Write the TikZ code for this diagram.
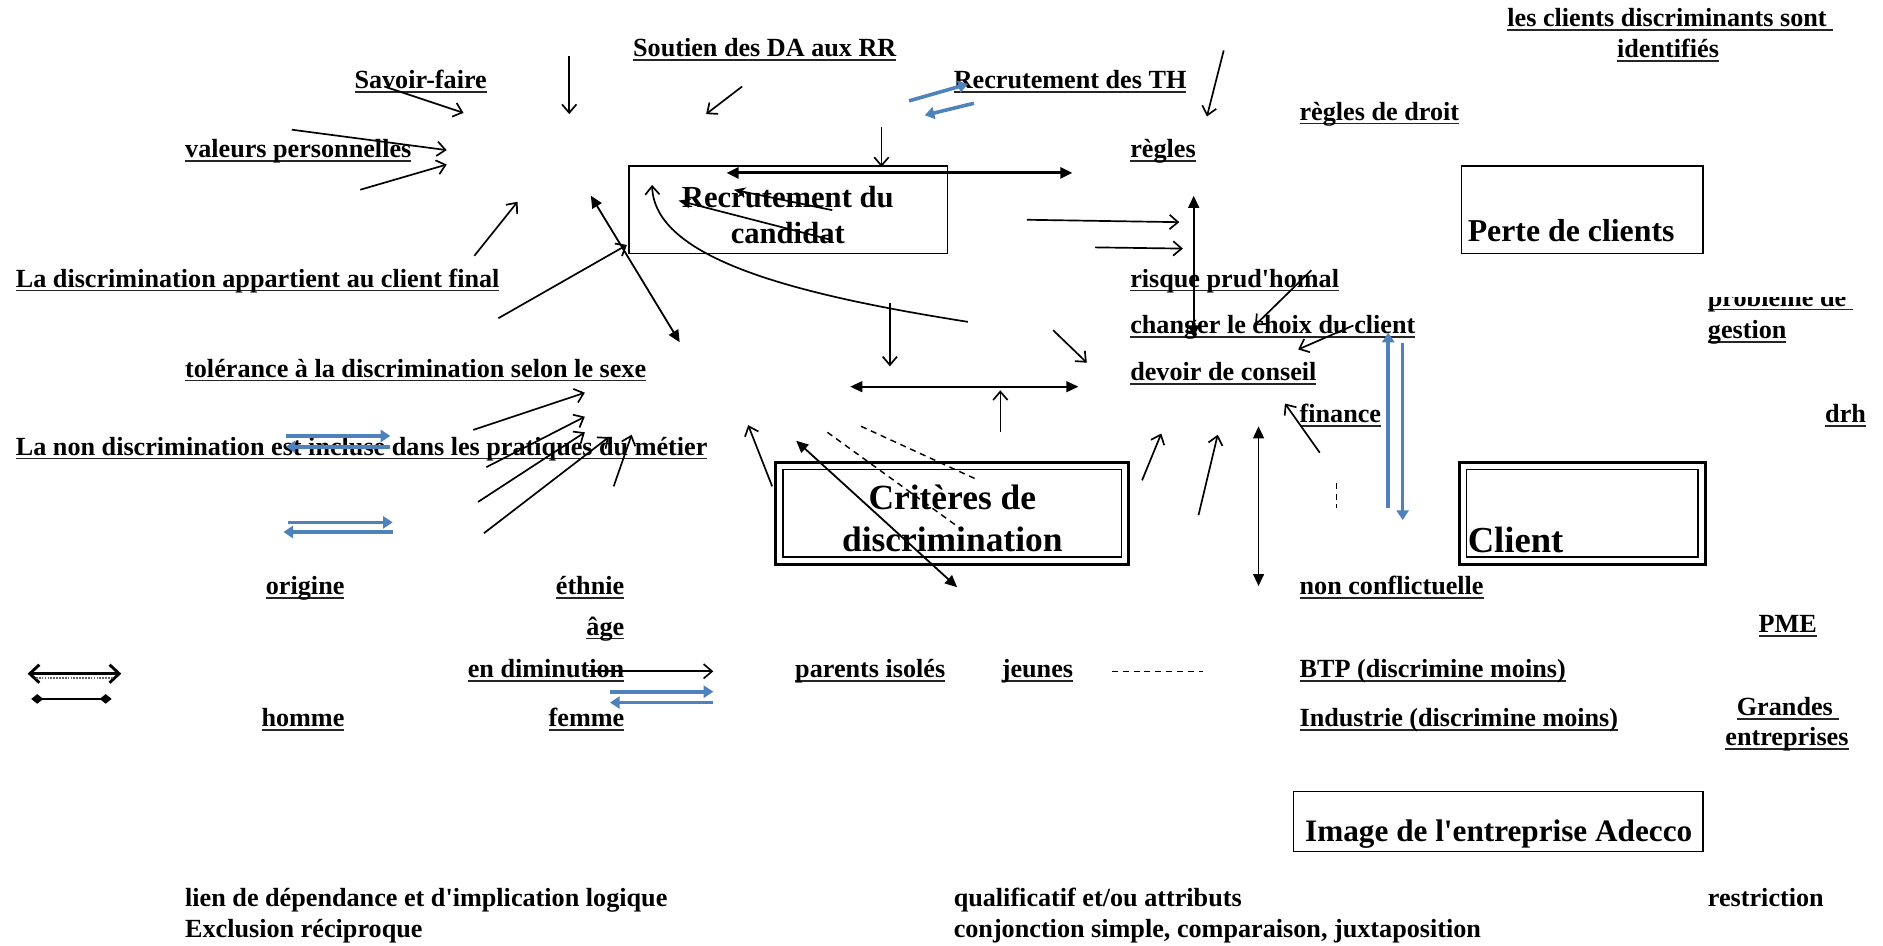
\documentclass[tikz,border=0pt]{standalone}
\usepackage{fontspec}
\setmainfont{Liberation Serif}
\usetikzlibrary{arrows.meta}
\definecolor{bl}{RGB}{79,129,189}
\newcommand\ulx[1]{\setbox0\hbox{#1}\rlap{\color{black!85}\rule[-3.5pt]{\wd0}{1.4pt}}\box0}
\newcommand\q{\textquotesingle}
\newcommand\lfont{\bfseries\fontsize{21.8}{25}\selectfont}
\tikzset{
  lbl/.style={font=\lfont, inner sep=0pt, anchor=base west},
  lble/.style={lbl, anchor=base east},
  arr/.style={-{Straight Barb[length=7pt,width=12pt]}, line width=1.4pt},
  farr/.style={-{Stealth[length=10pt,width=8pt]}, line width=1.4pt},
  darr/.style={{Triangle[length=10pt,width=9pt]}-{Triangle[length=10pt,width=9pt]}, line width=1.5pt},
  barr/.style={draw=bl, line width=3pt, -{Triangle[length=8pt,width=10pt]}},
  dsh/.style={dashed, dash pattern=on 5pt off 4pt, line width=1.2pt},
  box/.style={draw, line width=1.4pt, inner sep=0pt},
  ttl/.style={font=\bfseries\fontsize{#1}{#1}\selectfont, inner sep=0pt}
}
\begin{document}
\begin{tikzpicture}[x=1pt,y=-1pt]
\useasboundingbox (0,0) rectangle (1568,787);

% boxes
\node[box, minimum width=265pt, minimum height=73pt] (brec) at (656.5,174.5) {};
\node[box, minimum width=201pt, minimum height=73pt] (bperte) at (1317.5,174.5) {};
\node[box, line width=2.6pt, minimum width=294pt, minimum height=85pt] (bcrit) at (793,427.5) {};
\node[box, line width=1.3pt, minimum width=282pt, minimum height=73pt] (bcriti) at (793,427.5) {};
\node[box, line width=2.6pt, minimum width=205pt, minimum height=85pt] (bcli) at (1317.5,427.5) {};
\node[box, line width=1.3pt, minimum width=193pt, minimum height=73pt] (bclii) at (1317.5,427.5) {};
\node[box, minimum width=341pt, minimum height=50pt] (bimg) at (1247.5,684) {};

% box titles
\node[inner sep=0pt, align=center, font=\bfseries\fontsize{25.5}{30}\selectfont] (trec) at (656,179) {Recrutement du\\candidat};
\node[inner sep=0pt, align=center, font=\bfseries\fontsize{29.5}{35}\selectfont] (tcrit) at (793,432) {Critères de\\discrimination};
\node[ttl=26.5, anchor=base west] (tperte) at (1222,201) {Perte de clients};
\node[ttl=30.5, anchor=base west] (tcli) at (1222,460) {Client};
\node[ttl=26, anchor=base] (timg) at (1248,701) {Image de l\q entreprise Adecco};

% labels
\node[lbl] (t1) at (1255,22) {\ulx{les clients discriminants sont\ }};
\node[lbl, anchor=base] (t2) at (1389,48) {\ulx{identifiés}};
\node[lbl] (t3) at (527,47) {\ulx{Soutien des DA aux RR}};
\node[lbl] (t4) at (295,74) {\ulx{Savoir-faire}};
\node[lbl] (t5) at (794,74) {\ulx{Recrutement des TH}};
\node[lbl] (t6) at (1082,100) {\ulx{règles de droit}};
\node[lbl] (t7) at (154,131) {\ulx{valeurs personnelles}};
\node[lbl] (t8) at (941,131) {\ulx{règles}};
\node[lbl] (t9) at (13,239) {\ulx{La discrimination appartient au client final}};
\node[lbl] (t10) at (941,239) {\ulx{risque prud\q homal}};
\begin{scope}
\clip (1415,248) rectangle (1560,266);
\node[lbl] (t11) at (1422,255) {\ulx{problème de\ }};
\end{scope}
\node[lbl] (t12) at (1422,282) {\ulx{gestion}};
\node[lbl] (t13) at (941,278) {\ulx{changer le choix du client}};
\node[lbl] (t14) at (154,314) {\ulx{tolérance à la discrimination selon le sexe}};
\node[lbl] (t15) at (941,317) {\ulx{devoir de conseil}};
\node[lbl] (t16) at (1082,352) {\ulx{finance}};
\node[lble] (t17) at (1554,352) {\ulx{drh}};
\node[lbl] (t18) at (13,379) {\ulx{La non discrimination est incluse dans les pratiques du métier}};
\node[lble] (t19) at (287,495) {\ulx{origine}};
\node[lble] (t20) at (520,495) {\ulx{éthnie}};
\node[lbl] (t21) at (1082,495) {\ulx{non conflictuelle}};
\node[lble] (t22) at (520,529) {\ulx{âge}};
\node[lble] (t23) at (1513,527) {\ulx{PME}};
\node[lble] (t24) at (520,564) {\ulx{en diminution}};
\node[lbl] (t25) at (662,564) {\ulx{parents isolés}};
\node[lbl] (t26) at (834,564) {\ulx{jeunes}};
\node[lbl] (t27) at (1082,564) {\ulx{BTP (discrimine moins)}};
\node[lble] (t28) at (287,605) {\ulx{homme}};
\node[lble] (t29) at (520,605) {\ulx{femme}};
\node[lbl] (t30) at (1082,605) {\ulx{Industrie (discrimine moins)}};
\node[lbl, anchor=base] (t31) at (1489,596) {\ulx{Grandes\ }};
\node[lbl, anchor=base] (t32) at (1488,621) {\ulx{entreprises}};

% legend texts
\node[lbl] (l1) at (154,755) {lien de dépendance et d\q implication logique};
\node[lbl] (l2) at (154,781) {Exclusion réciproque};
\node[lbl] (l3) at (794,755) {qualificatif et/ou attributs};
\node[lbl] (l4) at (794,781) {conjonction simple, comparaison, juxtaposition};
\node[lbl] (l5) at (1422,755) {restriction};

% open-barb arrows
\foreach \n/\xa/\ya/\xb/\yb in {
  1/320/72/386/94, 2/474/47/474/95, 3/618/72/588/95, 4/243/108/372/125,
  5/300/158/372/137, 6/395/213/431/168, 7/415/265/522/204, 8/734/106/734/139,
  9/1019/42/1005/97, 13/855/183/982/185, 14/912/206/985/207,
  15/1092/225/1045/271, 16/1127/271/1081/291, 17/741/252/741/305,
  18/833/360/833/325, 19/877/275/905/302, 20/394/358/487/327,
  21/405/389/487/347, 22/398/418/487/360, 23/403/444/507/364,
  24/511/405/526/362, 25/643/405/623/354, 26/951/400/967/361,
  27/998/429/1014/362, 28/1099/377/1070/336, 29/490/559/594/559}{
  \coordinate (as\n) at (\xa,\ya);
  \coordinate (ae\n) at (\xb,\yb);
  \draw[arr] (as\n) -- (ae\n);
}
% small filled arrows in the box
\foreach \n/\xa/\ya/\xb/\yb in {10/693/175/611/158, 11/693/200/565/167}{
  \coordinate (as\n) at (\xa,\ya);
  \coordinate (ae\n) at (\xb,\yb);
  \draw[farr] (as\n) -- (ae\n);
}
% curved arrow
\coordinate (cs) at (806,268);
\coordinate (ce) at (543,154);
\draw[arr] (cs) .. controls (660,245) and (545,215) .. (ce);

% double filled arrows
\foreach \n/\xa/\ya/\xb/\yb/\w in {1/605/144/893/144/2.4, 2/994/163/994/281/1.5,
  3/492/163/566/285/1.5, 4/708/322/898/322/1.5, 5/663/367/797/489/1.5,
  6/1048/355/1048/488/1.5}{
  \coordinate (ds\n) at (\xa,\ya);
  \coordinate (de\n) at (\xb,\yb);
  \draw[darr, line width=\w pt] (ds\n) -- (de\n);
}

% blue arrows
\foreach \n/\xa/\ya/\xb/\yb in {1/757/84/806/70, 2/811/86/770/96,
  3/238/363/325/363, 4/325/372/238/372, 5/240/435/327/435, 6/327/443/236/443,
  7/1156/423/1156/277, 8/1168/286/1168/433, 9/508/576/594/576, 10/594/585/508/585}{
  \coordinate (bs\n) at (\xa,\ya);
  \coordinate (be\n) at (\xb,\yb);
  \draw[barr] (bs\n) -- (be\n);
}

% dashed lines
\foreach \n/\xa/\ya/\xb/\yb in {1/689/360/801/441, 2/717/355/815/400,
  3/926/559/1002/559, 4/1113/402/1113/423}{
  \coordinate (ss\n) at (\xa,\ya);
  \coordinate (se\n) at (\xb,\yb);
  \draw[dsh] (ss\n) -- (se\n);
}

% legend symbols
\coordinate (k1s) at (23,561);
\coordinate (k1e) at (101,561);
\draw[line width=2.4pt, {Straight Barb[length=8pt,width=15pt]}-{Straight Barb[length=8pt,width=15pt]}] (k1s) -- (k1e);
\draw[densely dotted, line width=1.4pt, black!60] ([xshift=7pt,yshift=-3.5pt]k1s) -- ([xshift=-7pt,yshift=-3.5pt]k1e);
\coordinate (k2s) at (26,582);
\coordinate (k2e) at (93,582);
\draw[line width=2pt, {Diamond[length=10pt,width=8pt]}-{Diamond[length=10pt,width=8pt]}] (k2s) -- (k2e);
\end{tikzpicture}
\end{document}
